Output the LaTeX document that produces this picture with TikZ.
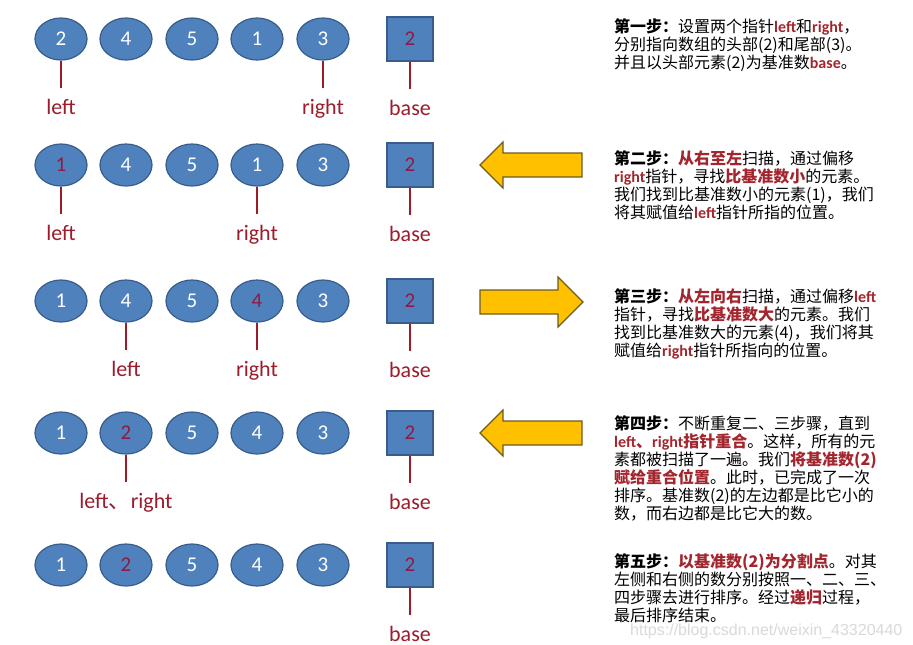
\documentclass[tikz,border=0pt]{standalone}
\usepackage{fontspec}
\setmainfont{Noto Sans CJK SC}
\newfontfamily\latinfont{Carlito}
\newfontfamily\cjkfont{Noto Sans CJK SC}
\newfontfamily\wmfont{Liberation Sans}
\usepackage{xcolor}
\usepackage{tikz}
\usetikzlibrary{calc, shapes.geometric, positioning}

\definecolor{elemfill}{HTML}{4F81BD}
\definecolor{elemborder}{HTML}{385D8A}
\definecolor{lblred}{HTML}{9C1C2C}
\definecolor{numred}{HTML}{8E1A45}
\definecolor{txtred}{HTML}{A3262E}
\definecolor{arrowfill}{HTML}{FFC000}
\definecolor{arrowborder}{HTML}{6E5B1E}

\newcommand{\hlnum}[1]{\textcolor{numred}{#1}}
\newcommand{\kw}[1]{{\latinfont\bfseries\color{txtred}#1}}
\newcommand{\hot}[1]{{\bfseries\color{txtred}#1}}
\newcommand{\stephead}[1]{{\bfseries #1}}

\tikzset{
    elem/.style={ellipse, draw=elemborder, fill=elemfill, line width=1.2pt,
        minimum width=52pt, minimum height=42pt, inner sep=0pt, text=white,
        font=\latinfont\fontsize{21}{24}\selectfont},
    pivot/.style={rectangle, draw=elemborder, fill=elemfill, line width=1.2pt,
        minimum width=46pt, minimum height=44pt, inner sep=0pt, text=numred,
        font=\latinfont\fontsize{21}{24}\selectfont},
    ptr/.style={draw=lblred, line width=2pt},
    ptrlabel/.style={text=lblred, inner sep=0pt,
        font=\latinfont\fontsize{22}{26}\selectfont},
    hint/.style={fill=arrowfill, draw=arrowborder, line width=1.2pt},
    note/.style={anchor=north west, align=left, inner sep=0pt,
        font=\fontsize{16}{18}\selectfont}
}

\begin{document}
\begin{tikzpicture}[x=1pt, y=-1pt]
    \useasboundingbox[fill=white] (0,0) rectangle (913,645);

    % 1. Dãy phần tử và số chuẩn
    \foreach \v [count=\i] in {2,4,5,1,3}
        \node[elem] (a\i) at ({61+65*(\i-1)+int((\i-1)/2)},39) {\v};
    \foreach \v [count=\i] in {\hlnum{1},4,5,1,3}
        \node[elem] (b\i) at ({61+65*(\i-1)+int((\i-1)/2)},165) {\v};
    \foreach \v [count=\i] in {1,4,5,\hlnum{4},3}
        \node[elem] (c\i) at ({61+65*(\i-1)+int((\i-1)/2)},301) {\v};
    \foreach \v [count=\i] in {1,\hlnum{2},5,4,3}
        \node[elem] (d\i) at ({61+65*(\i-1)+int((\i-1)/2)},433) {\v};
    \foreach \v [count=\i] in {1,\hlnum{2},5,4,3}
        \node[elem] (e\i) at ({61+65*(\i-1)+int((\i-1)/2)},565) {\v};
    \foreach \r/\y in {a/39, b/165, c/301, d/433, e/565}
        \node[pivot] (p\r) at (410,\y) {2};

    % 2. Con trỏ
    \foreach \n/\t in {a1/left, a5/right, pa/base, b1/left, b4/right, pb/base,
                       c2/left, c4/right, pc/base, d2/{left{\cjkfont 、}right}, pd/base, pe/base} {
        \coordinate (\n e) at ($(\n.south)+(0,27)$);
        \draw[ptr] (\n) -- (\n e);
        \node[ptrlabel, below=11pt of \n e] (\n l) {\t};
    }

    % 3. Mũi tên hướng quét
    \foreach \y in {165,433}
        \draw[hint] (480,\y) -- (503,\y-23) -- (503,\y-12) -- (582,\y-12)
            -- (582,\y+12) -- (503,\y+12) -- (503,\y+23) -- cycle;
    \draw[hint] (583,302) -- (558,277) -- (558,290) -- (480,290)
        -- (480,314) -- (558,314) -- (558,327) -- cycle;

    % 4. Lời giải thích
    \node[note] (s1) at (614,18) {\stephead{第一步：}设置两个指针\kw{left}和\kw{right}，\\
        分别指向数组的头部(2)和尾部(3)。\\
        并且以头部元素(2)为基准数\kw{base}。};
    \node[note] (s2) at (614,150) {\stephead{第二步：}\hot{从右至左}扫描，通过偏移\\
        \kw{right}指针，寻找\hot{比基准数小}的元素。\\
        我们找到比基准数小的元素(1)，我们\\
        将其赋值给\kw{left}指针所指的位置。};
    \node[note] (s3) at (614,288) {\stephead{第三步：}\hot{从左向右}扫描，通过偏移\kw{left}\\
        指针，寻找\hot{比基准数大}的元素。我们\\
        找到比基准数大的元素(4)，我们将其\\
        赋值给\kw{right}指针所指向的位置。};
    \node[note] (s4) at (614,415) {\stephead{第四步：}不断重复二、三步骤，直到\\
        \hot{\kw{left}、\kw{right}指针重合}。这样，所有的元\\
        素都被扫描了一遍。我们\hot{将基准数(2)}\\
        \hot{赋给重合位置}。此时，已完成了一次\\
        排序。基准数(2)的左边都是比它小的\\
        数，而右边都是比它大的数。};
    \node[note] (s5) at (614,553) {\stephead{第五步：}\hot{以基准数(2)为分割点}。对其\\
        左侧和右侧的数分别按照一、二、三、\\
        四步骤去进行排序。经过\hot{递归}过程，\\
        最后排序结束。};
    \node[anchor=west, inner sep=0pt, text=black!15, font=\wmfont\fontsize{16}{18}\selectfont]
        (wm) at (630,631) {https://blog.csdn.net/weixin\_43320440};
\end{tikzpicture}
\end{document}
